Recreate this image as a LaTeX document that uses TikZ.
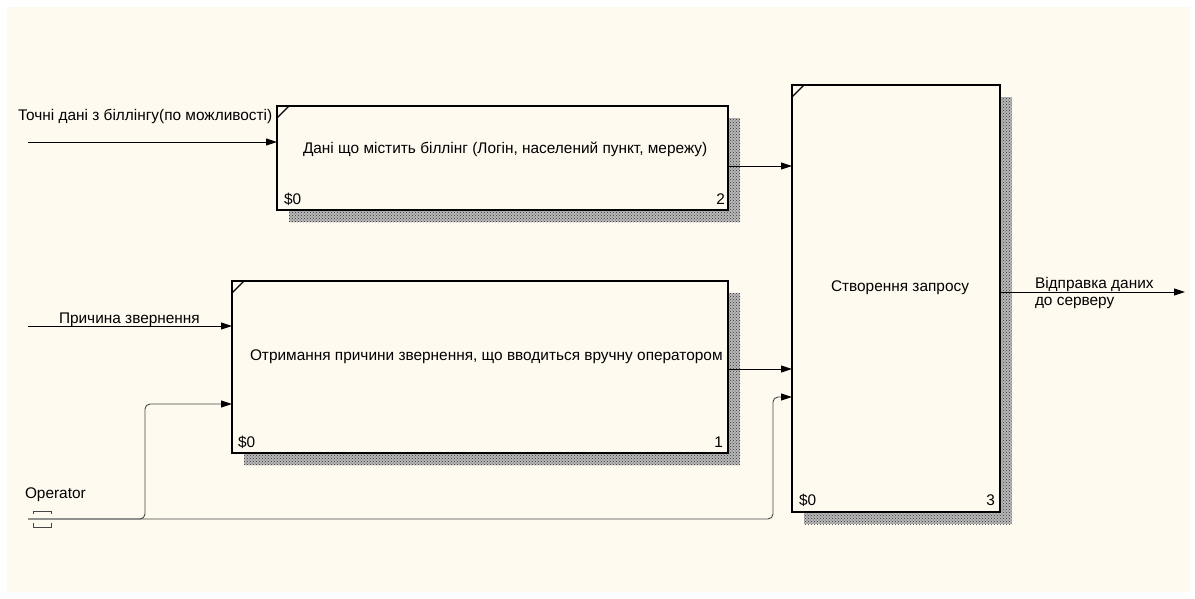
\documentclass[tikz,border=0pt]{standalone}
\usepackage{fontspec}
\setmainfont{Liberation Sans}
\usetikzlibrary{arrows.meta,patterns}
\definecolor{paper}{RGB}{255,250,240}
\definecolor{wire}{RGB}{70,70,70}
\begin{document}
\begin{tikzpicture}[x=1pt,y=-1pt,
  every node/.style={font=\fontsize{15.4}{18}\selectfont, inner sep=0pt, outer sep=0pt},
  actbox/.style={draw=black, line width=1.6pt, fill=paper, anchor=north west},
  boxshade/.style={fill=black!28, postaction={pattern=crosshatch dots, pattern color=black!80}},
  tip/.style={-{Triangle[length=11pt,width=7pt,color=black]}},
  flow/.style={line width=0.9pt, black, tip},
  opflow/.style={line width=0.9pt, wire, rounded corners=5pt, tip},
  txt/.style={anchor=base west}
]
\useasboundingbox (0,0) rectangle (1195,598);
\fill[white] (0,0) rectangle (1195,598);
\fill[paper] (7,7) rectangle (1190,592);

% drop shadows of the activity boxes
\fill[boxshade] (289,118) rectangle (740,222);
\fill[boxshade] (244,293) rectangle (740,465);
\fill[boxshade] (804,97) rectangle (1012,524);

% activity boxes
\node[actbox, minimum width=451pt, minimum height=104pt] (b2) at (277,106) {};
\node[actbox, minimum width=496pt, minimum height=172pt] (b1) at (232,281) {};
\node[actbox, minimum width=208pt, minimum height=427pt] (b3) at (792,85) {};

% corner ticks
\foreach \b in {b1,b2,b3}
  \draw[line width=1.2pt] ([shift={(0,12)}]\b.north west) -- ([shift={(12,0)}]\b.north west);

% box texts
\node[txt] (t2) at (303,153) {Дані що містить біллінг (Логін, населений пункт, мережу)};
\node[txt] (t1) at (250,360) {Отримання причини звернення, що вводиться вручну оператором};
\node[txt] (t3) at (831,291) {Створення запросу};
\node[txt] (c2) at (284,204) {\$0};
\node[anchor=base east] (n2) at (725,204) {2};
\node[txt] (c1) at (238,447) {\$0};
\node[anchor=base east] (n1) at (723,447) {1};
\node[txt] (c3) at (799,505) {\$0};
\node[anchor=base east] (n3) at (995,505) {3};

% arrow labels
\node[txt] (l1) at (18,120) {Точні дані з біллінгу(по можливості)};
\node[txt] (l2) at (59,323) {Причина звернення};
\node[txt] (l3) at (25,498) {Operator};
\node[txt] (l4) at (1035,288) {Відправка даних};
\node[txt] (l5) at (1035,305) {до серверу};

% free ends
\coordinate (inA) at (28,142);
\coordinate (inB) at (28,326);
\coordinate (op) at (28,519);
\coordinate (out) at (1185,292);

% connectors
\draw[flow] (inA) -- (b2.west |- inA);
\draw[flow] (inB) -- (b1.west |- inB);
\draw[flow] (b2.east |- 0,166) -- (b3.west |- 0,166);
\draw[flow] (b1.east |- 0,369) -- (b3.west |- 0,369);
\draw[flow] (b3.east |- out) -- (out);
\draw[opflow] (op) -- (145,519) |- (b1.west |- 0,404);
\draw[opflow] (op) -- (773,519) |- (b3.west |- 0,397);

% tunnel brackets on the Operator arrow
\draw[wire, line width=0.8pt] (33,514) -- (33,511) -- (51,511) -- (51,514);
\draw[wire, line width=0.8pt] (33,523) -- (33,527) -- (51,527) -- (51,523);
\end{tikzpicture}
\end{document}
